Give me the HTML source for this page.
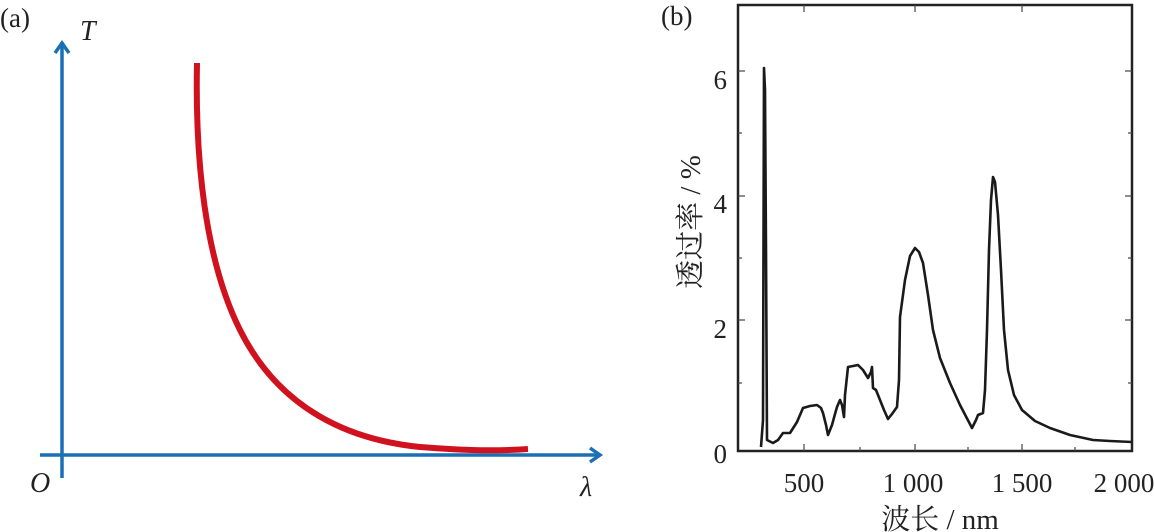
<!DOCTYPE html>
<html><head><meta charset="utf-8"><style>
html,body{margin:0;padding:0;background:#fff;}
svg{display:block;}
text{font-family:"Liberation Serif","Noto Serif CJK SC",serif;fill:#222;}
</style></head><body>
<svg width="1154" height="532" viewBox="0 0 1154 532" xmlns="http://www.w3.org/2000/svg">
<!-- Panel a -->
<text x="0" y="27" font-size="27">(a)</text>
<line x1="62" y1="478" x2="62" y2="42" stroke="#1a6fb5" stroke-width="3.5"/>
<polyline points="55,53 62,43 69,53" fill="none" stroke="#1a6fb5" stroke-width="3.5"/>
<line x1="40" y1="455" x2="600" y2="455" stroke="#1a6fb5" stroke-width="3.5"/>
<polyline points="590,448 600,455 590,462" fill="none" stroke="#1a6fb5" stroke-width="3.5"/>
<text x="80" y="40" font-size="28" font-style="italic">T</text>
<text x="30" y="492" font-size="28" font-style="italic">O</text>
<text x="580" y="496" font-size="28" font-style="italic">λ</text>
<path d="M197,63 C195,160 205,260 240,330 C280,410 350,440 420,447 C470,451 500,451 528,449" fill="none" stroke="#d0121f" stroke-width="6"/>
<!-- Panel b -->
<text x="661" y="25" font-size="27">(b)</text>
<rect x="738" y="5" width="394" height="446" fill="none" stroke="#222" stroke-width="2.5"/>
<g stroke="#444" stroke-width="1.2">
<line x1="738" y1="71" x2="745" y2="71"/><line x1="738" y1="196" x2="745" y2="196"/><line x1="738" y1="320" x2="745" y2="320"/>
<line x1="738" y1="133" x2="742" y2="133"/><line x1="738" y1="258" x2="742" y2="258"/><line x1="738" y1="383" x2="742" y2="383"/>
<line x1="1132" y1="71" x2="1125" y2="71"/><line x1="1132" y1="196" x2="1125" y2="196"/><line x1="1132" y1="320" x2="1125" y2="320"/>
<line x1="1132" y1="133" x2="1128" y2="133"/><line x1="1132" y1="258" x2="1128" y2="258"/><line x1="1132" y1="383" x2="1128" y2="383"/>
<line x1="804" y1="451" x2="804" y2="444"/><line x1="915" y1="451" x2="915" y2="444"/><line x1="1022" y1="451" x2="1022" y2="444"/>
<line x1="804" y1="5" x2="804" y2="12"/><line x1="915" y1="5" x2="915" y2="12"/><line x1="1022" y1="5" x2="1022" y2="12"/>
<line x1="860" y1="451" x2="860" y2="447"/><line x1="968" y1="451" x2="968" y2="447"/><line x1="1075" y1="451" x2="1075" y2="447"/>
</g>
<g font-size="27" text-anchor="end">
<text x="727" y="89">6</text><text x="727" y="213">4</text><text x="727" y="338">2</text><text x="727" y="463">0</text>
</g>
<g font-size="27" text-anchor="middle">
<text x="804" y="492">500</text><text x="913" y="492">1 000</text><text x="1022" y="492">1 500</text><text x="1124" y="492">2 000</text>
</g>
<text x="940" y="529" font-size="29" text-anchor="middle">波长 / nm</text>
<text transform="translate(700,222) rotate(-90)" font-size="29" text-anchor="middle">透过率 / %</text>
<polyline fill="none" stroke="#1a1a1a" stroke-width="2.6" stroke-linejoin="round" points="
761,447 763,420 764,68 765,90 766,250 767,440 773,443 778,440 783,433 790,433 797,422 803,408 810,406 817,405 821,408 823,413 826,425 828,435 830,430 832,425 835,414 837,407 840,400 842,405 844,417 845,395 848,367 853,366 858,365 863,370 868,378 871,372 872,367 873,388 876,390 880,400 884,410 888,419 892,414 897,407 899,380 900,317 905,280 910,256 915,248 919,252 923,263 928,295 933,330 940,358 950,383 960,405 972,428 976,420 978,415 983,413 985,390 987,330 989,250 991,200 993,177 995,182 998,215 1001,270 1004,330 1008,370 1014,395 1022,410 1035,421 1050,428 1070,435 1093,440 1110,441 1132,442"/>
</svg>
</body></html>
